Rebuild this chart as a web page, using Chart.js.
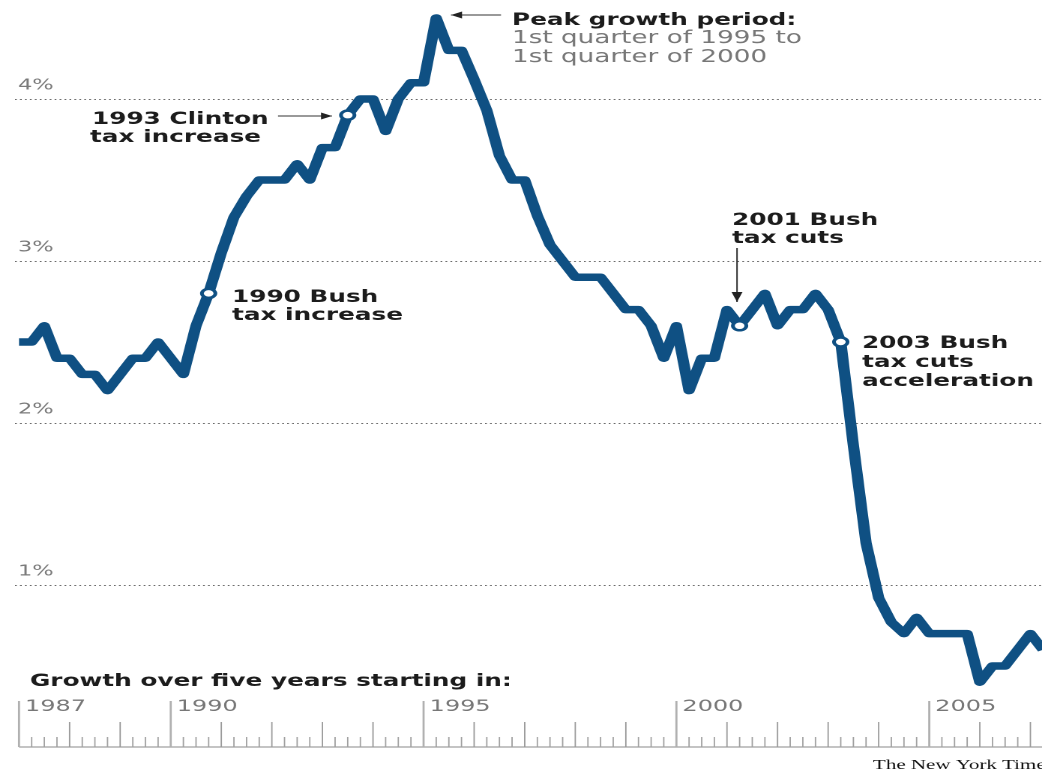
<!DOCTYPE html>
<html><head><meta charset="utf-8">
<script src="https://cdn.jsdelivr.net/npm/chart.js@4.4.1/dist/chart.umd.min.js"></script>
<style>
html,body{margin:0;padding:0;background:#fff;overflow:hidden;}
#wrap{position:absolute;left:0;top:0;width:695px;height:771px;transform:scaleX(1.4993);transform-origin:0 0;}
</style></head><body>
<div id="wrap"><canvas id="c" width="695" height="771"></canvas></div>
<script>
// ---------- data ----------
const quarters = [];
for (let y = 1987; y <= 2007; y++) for (let q = 1; q <= 4; q++) quarters.push(y + 'Q' + q);
quarters.length = 82; // 1987Q1 .. 2007Q2

const growthValues = [
  2.5, 2.5, 2.6, 2.4, 2.4, 2.3, 2.3, 2.2, 2.3, 2.4, 2.4, 2.5, 2.4, 2.3, 2.6, 2.8,
  3.05, 3.27, 3.4, 3.5, 3.5, 3.5, 3.6, 3.5, 3.7, 3.7, 3.9, 4.0, 4.0, 3.8, 4.0, 4.1,
  4.1, 4.5, 4.3, 4.3, 4.12, 3.93, 3.65, 3.5, 3.5, 3.28, 3.1, 3.0, 2.9, 2.9, 2.9, 2.8,
  2.7, 2.7, 2.6, 2.4, 2.6, 2.2, 2.4, 2.4, 2.7, 2.6, 2.7, 2.8, 2.6, 2.7, 2.7, 2.8,
  2.7, 2.5, 1.86, 1.26, 0.92, 0.77, 0.7, 0.8, 0.7, 0.7, 0.7, 0.7, 0.4, 0.5, 0.5, 0.6,
  0.7, 0.6
];
const markerQuarters = ['1990Q4', '1993Q3', '2001Q2', '2003Q2'];
const yTickValues = [1, 2, 3, 4];
const yTickLabels = ['1%', '2%', '3%', '4%'];
const yearLabels = ['1987', '1990', '1995', '2000', '2005'];

// ---------- helpers ----------
const S = 1042 / 695;            // horizontal stretch of the page
const X = v => v / S;            // outer px -> inner px
const BLUE = '#0f5083';
const qNum = q => parseInt(q.slice(0, 4)) + (parseInt(q.slice(5)) - 1) / 4;

function arrow(ctx, x1, y1, x2, y2, headLen, headHalf) {
  ctx.save();
  ctx.strokeStyle = '#333'; ctx.fillStyle = '#222'; ctx.lineWidth = 1;
  ctx.beginPath(); ctx.moveTo(x1, y1); ctx.lineTo(x2, y2); ctx.stroke();
  ctx.beginPath();
  if (y1 === y2) {
    const d = x2 > x1 ? 1 : -1;
    ctx.moveTo(x2, y2); ctx.lineTo(x2 - d * headLen, y2 - headHalf); ctx.lineTo(x2 - d * headLen, y2 + headHalf);
  } else {
    const d = y2 > y1 ? 1 : -1;
    ctx.moveTo(x2, y2); ctx.lineTo(x2 - headHalf, y2 - d * headLen); ctx.lineTo(x2 + headHalf, y2 - d * headLen);
  }
  ctx.closePath(); ctx.fill();
  ctx.restore();
}

const decor = {
  id: 'decor',
  beforeDatasetsDraw(chart) {
    const ctx = chart.ctx, xs = chart.scales.x, ys = chart.scales.y, a = chart.chartArea;
    ctx.save();
    // dotted gridlines + labels
    yTickValues.forEach((v, i) => {
      const y = Math.round(ys.getPixelForValue(v)) + 0.5;
      ctx.strokeStyle = '#6a6a6a'; ctx.lineWidth = 1; ctx.setLineDash([1.2, 2.1]);
      ctx.beginPath(); ctx.moveTo(X(15), y); ctx.lineTo(a.right, y); ctx.stroke();
      ctx.setLineDash([]);
      ctx.fillStyle = '#7a7a7a'; ctx.font = '15px "DejaVu Sans"';
      ctx.textBaseline = 'alphabetic'; ctx.textAlign = 'left';
      ctx.fillText(yTickLabels[i], X(18), y - 10);
    });
    // ruler
    const y0 = ys.getPixelForValue(0);
    const first = parseInt(yearLabels[0]);
    ctx.strokeStyle = '#888'; ctx.lineWidth = 1;
    ctx.beginPath(); ctx.moveTo(xs.getPixelForValue(first), y0); ctx.lineTo(a.right, y0); ctx.stroke();
    const majors = yearLabels.map(Number);
    for (let yr = first; yr <= 2008; yr++) {
      for (let q = 0; q < 4; q++) {
        const x = xs.getPixelForValue(yr + q / 4);
        if (x > a.right + 1) continue;
        let h = 10, col = '#a0a0a0', w = 0.9;
        if (q === 0) { h = 25; col = '#999'; }
        if (q === 0 && majors.includes(yr)) { h = 46; col = '#b0b0b0'; w = 1.4; }
        ctx.strokeStyle = col; ctx.lineWidth = w;
        ctx.beginPath(); ctx.moveTo(x, y0); ctx.lineTo(x, y0 - h); ctx.stroke();
      }
    }
    ctx.fillStyle = '#777'; ctx.font = '16px "DejaVu Sans"';
    yearLabels.forEach(l => {
      ctx.fillText(l, xs.getPixelForValue(Number(l)) + X(6), 711);
    });
    ctx.restore();
  },
  afterDatasetsDraw(chart) {
    const ctx = chart.ctx;
    ctx.save();
    ctx.textBaseline = 'alphabetic'; ctx.textAlign = 'left';
    ctx.font = 'bold 16.5px "DejaVu Sans"'; ctx.fillStyle = '#1c1c1c';
    ctx.fillText('Peak growth period:', X(512), 25);
    ctx.fillText('1993 Clinton', X(92), 124);
    ctx.fillText('tax increase', X(90), 142);
    ctx.fillText('1990 Bush', X(232), 302);
    ctx.fillText('tax increase', X(232), 320);
    ctx.fillText('2001 Bush', X(732), 225);
    ctx.fillText('tax cuts', X(732), 243);
    ctx.fillText('2003 Bush', X(862), 348);
    ctx.fillText('tax cuts', X(862), 367);
    ctx.fillText('acceleration', X(862), 386);
    ctx.fillText('Growth over five years starting in:', X(30), 686);
    ctx.font = '17.5px "DejaVu Sans"'; ctx.fillStyle = '#777';
    ctx.fillText('1st quarter of 1995 to', X(512), 43);
    ctx.fillText('1st quarter of 2000', X(512), 62);
    ctx.font = '14px "Liberation Serif"'; ctx.fillStyle = '#111';
    ctx.fillText('The New York Times', X(873), 769);
    arrow(ctx, X(501), 15, X(451), 15, X(11), 3.5);
    arrow(ctx, X(278), 116, X(332), 116, X(11), 3.5);
    arrow(ctx, X(737), 248, X(737), 302, 10, X(5.5));
    ctx.restore();
  }
};

new Chart(document.getElementById('c'), {
  type: 'line',
  data: {
    datasets: [{
      data: quarters.map((q, i) => ({ x: qNum(q), y: growthValues[i] })),
      borderColor: BLUE,
      borderWidth: 7.5,
      borderJoinStyle: 'round',
      tension: 0,
      pointRadius: c => markerQuarters.includes(quarters[c.dataIndex]) ? 4.5 : 0,
      pointBackgroundColor: '#fff',
      pointBorderColor: BLUE,
      pointBorderWidth: 2.5,
      pointHoverRadius: 0
    }]
  },
  options: {
    responsive: false,
    animation: false,
    devicePixelRatio: 2,
    events: [],
    layout: { padding: { left: 0, right: 0, top: 0, bottom: 24 } },
    plugins: { legend: { display: false }, tooltip: { enabled: false } },
    scales: {
      x: { type: 'linear', min: 1986.624, max: 2007.23, display: false },
      y: { min: 0, max: 4.611, display: false }
    }
  },
  plugins: [decor]
});
</script>
</body></html>
